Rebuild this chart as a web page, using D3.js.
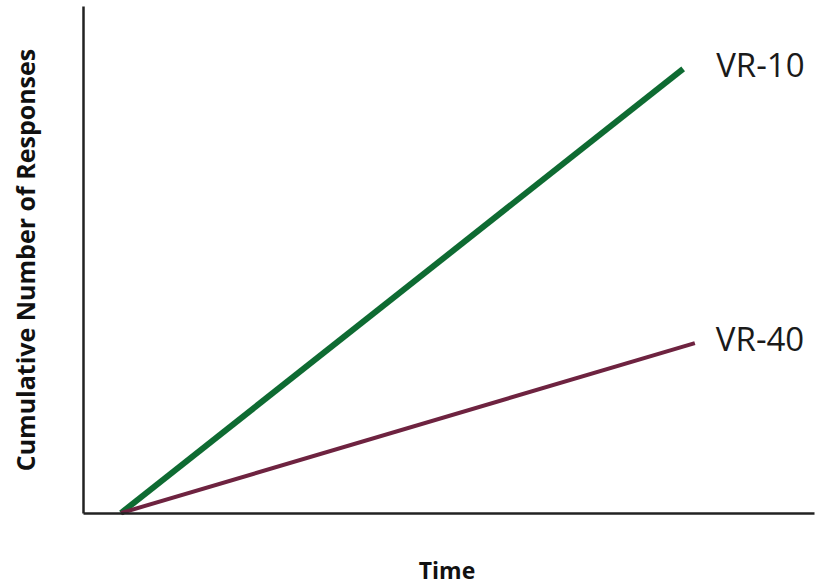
<!DOCTYPE html>
<meta charset="utf-8">
<script src="https://d3js.org/d3.v7.min.js"></script>
<style>
  body { margin: 0; background: #fff; }
</style>
<div id="chart"></div>
<script>
  // series data (arbitrary units)
  let seriesNames = ["VR-10", "VR-40"];
  let vr10Time = [5.2, 82.1];
  let vr10Responses = [0, 87.6];
  let vr40Time = [5.2, 83.7];
  let vr40Responses = [0, 33.5];

  let width = 829, height = 586;

  let svg = d3.select("#chart").append("svg")
      .attr("width", width)
      .attr("height", height);

  let x = d3.scaleLinear().domain([0, 100]).range([83, 814]);
  let y = d3.scaleLinear().domain([0, 100]).range([513, 6]);

  let series = [
    {name: seriesNames[0], t: vr10Time, r: vr10Responses, color: "#0e6b32", w: 6},
    {name: seriesNames[1], t: vr40Time, r: vr40Responses, color: "#6e2340", w: 4}
  ];

  let line = d3.line().x(d => x(d[0])).y(d => y(d[1]));

  series.forEach(s => {
    let pts = s.t.map((t, i) => [t, s.r[i]]);
    svg.append("path")
        .attr("d", line(pts))
        .attr("fill", "none")
        .attr("stroke", s.color)
        .attr("stroke-width", s.w);
    let last = pts[pts.length - 1];
    svg.append("text")
        .attr("x", x(last[0]) + (s.name == "VR-10" ? 33 : 21))
        .attr("y", y(last[1]) + 8)
        .style("font-family", "'Open Sans', sans-serif")
        .style("font-size", "33px")
        .attr("fill", "#1a1a1a")
        .text(s.name);
  });

  // axes without ticks
  svg.append("g")
      .attr("transform", "translate(0," + y(0) + ")")
      .call(d3.axisBottom(x).tickSize(0).tickValues([]))
      .select(".domain").attr("stroke", "#222").attr("stroke-width", 2.5);
  svg.append("g")
      .attr("transform", "translate(" + x(0) + ",0)")
      .call(d3.axisLeft(y).tickSize(0).tickValues([]))
      .select(".domain").attr("stroke", "#222").attr("stroke-width", 2.5);

  svg.append("text")
      .attr("x", 447)
      .attr("y", 579)
      .attr("text-anchor", "middle")
      .style("font-family", "'Open Sans', sans-serif")
      .style("font-weight", "bold")
      .style("font-size", "23px")
      .attr("fill", "#111")
      .text("Time");

  svg.append("text")
      .attr("transform", "translate(35,260) rotate(-90)")
      .attr("text-anchor", "middle")
      .style("font-family", "'Open Sans', sans-serif")
      .style("font-weight", "bold")
      .style("font-size", "25px")
      .attr("fill", "#111")
      .text("Cumulative Number of Responses");
</script>
